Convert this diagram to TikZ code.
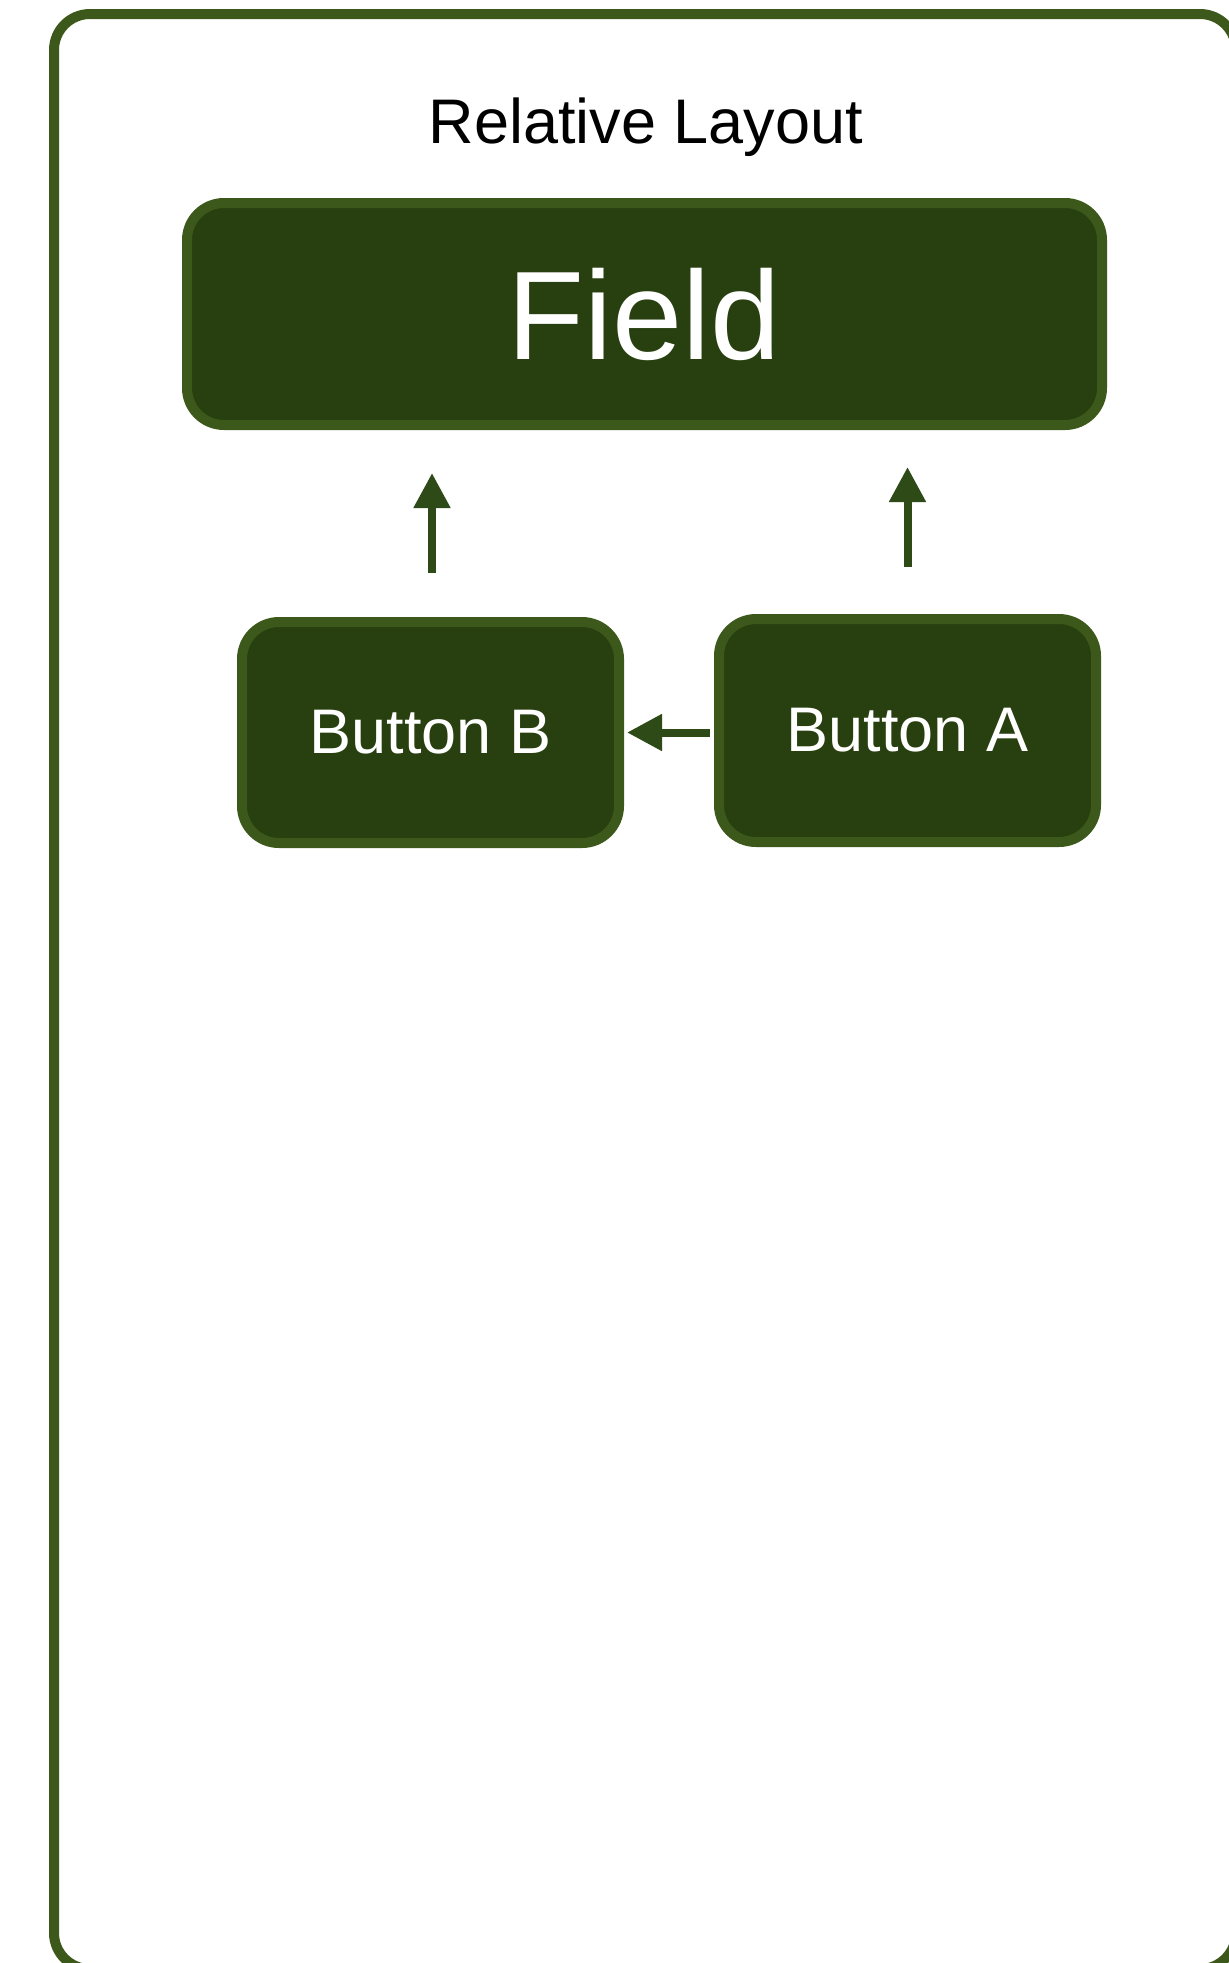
\documentclass[tikz,border=0pt]{standalone}
\usepackage{fontspec}
\setmainfont{Liberation Sans}
\usetikzlibrary{arrows.meta}
\definecolor{bordergreen}{HTML}{3C591B}
\definecolor{fillgreen}{HTML}{283F0F}
\definecolor{arrowgreen}{HTML}{2E4A16}
\tikzset{
  boxnode/.style={draw=bordergreen, fill=fillgreen, line width=10pt, rounded corners=37pt,
    text=white, inner sep=0pt, outer sep=auto},
  smalltext/.style={font=\fontsize{63}{70}\selectfont},
  bigtext/.style={font=\fontsize{126}{140}\selectfont},
  arrowline/.style={draw=arrowgreen, line width=8pt,
    -{Triangle[length=35pt,width=35pt]}},
  framebox/.style={draw=bordergreen, line width=10pt, rounded corners=36pt}
}
\begin{document}
\begin{tikzpicture}[x=1pt,y=-1pt]
\useasboundingbox (0,0) rectangle (1229,1963);
\begin{scope}
\clip (0,0) rectangle (1229,1963);
\draw[framebox] (54,14) rectangle (1236,1969);
\end{scope}
\node[smalltext, anchor=base] (title) at (646,143) {Relative Layout};
\node[boxnode, bigtext, minimum width=915pt, minimum height=222pt] (F) at (644.5,314) {Field};
\node[boxnode, smalltext, minimum width=377pt, minimum height=221pt] (B) at (430.5,732.5) {Button B};
\node[boxnode, smalltext, minimum width=377pt, minimum height=223pt] (A) at (907.5,730.5) {Button A};
\draw[arrowline, shorten <=44pt, shorten >=43pt] ([xshift=1.5pt]B.north) -- ([xshift=1.5pt]B.north |- F.south);
\draw[arrowline, shorten <=47pt, shorten >=37pt] (A.north) -- (A.north |- F.south);
\draw[arrowline, shorten <=4pt, shorten >=3pt] (A.west |- B.east) -- (B.east);
\end{tikzpicture}
\end{document}
